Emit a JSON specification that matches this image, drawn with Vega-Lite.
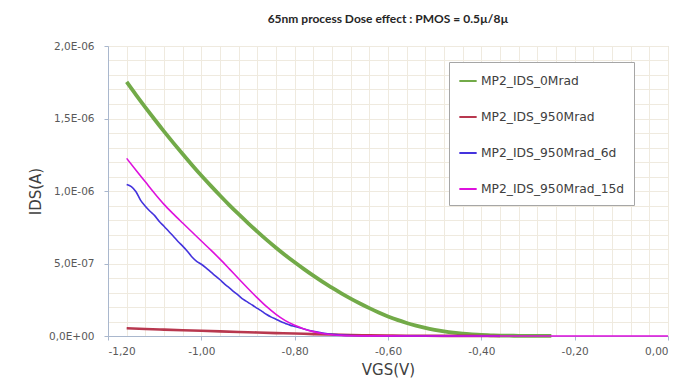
{
  "$schema": "https://vega.github.io/schema/vega-lite/v6.json",
  "width": 560,
  "height": 290,
  "autosize": "none",
  "padding": {"left": 108, "top": 46, "right": 15, "bottom": 51},
  "background": "white",
  "title": {
    "text": "65nm process Dose effect : PMOS = 0.5µ/8µ",
    "font": "Lato",
    "fontSize": 12,
    "fontWeight": "bold",
    "color": "#262626",
    "anchor": "middle",
    "frame": "group",
    "offset": 15,
    "dx": 0
  },
  "data": {
    "values": [
      {"s": "MP2_IDS_0Mrad", "v": -1.16, "i": 1.752e-6},
      {"s": "MP2_IDS_0Mrad", "v": -1.14, "i": 1.663e-6},
      {"s": "MP2_IDS_0Mrad", "v": -1.12, "i": 1.577e-6},
      {"s": "MP2_IDS_0Mrad", "v": -1.10, "i": 1.493e-6},
      {"s": "MP2_IDS_0Mrad", "v": -1.08, "i": 1.411e-6},
      {"s": "MP2_IDS_0Mrad", "v": -1.06, "i": 1.332e-6},
      {"s": "MP2_IDS_0Mrad", "v": -1.04, "i": 1.255e-6},
      {"s": "MP2_IDS_0Mrad", "v": -1.02, "i": 1.180e-6},
      {"s": "MP2_IDS_0Mrad", "v": -1.00, "i": 1.107e-6},
      {"s": "MP2_IDS_0Mrad", "v": -0.98, "i": 1.037e-6},
      {"s": "MP2_IDS_0Mrad", "v": -0.96, "i": 0.969e-6},
      {"s": "MP2_IDS_0Mrad", "v": -0.94, "i": 0.903e-6},
      {"s": "MP2_IDS_0Mrad", "v": -0.92, "i": 0.840e-6},
      {"s": "MP2_IDS_0Mrad", "v": -0.90, "i": 0.779e-6},
      {"s": "MP2_IDS_0Mrad", "v": -0.88, "i": 0.720e-6},
      {"s": "MP2_IDS_0Mrad", "v": -0.86, "i": 0.663e-6},
      {"s": "MP2_IDS_0Mrad", "v": -0.84, "i": 0.609e-6},
      {"s": "MP2_IDS_0Mrad", "v": -0.82, "i": 0.557e-6},
      {"s": "MP2_IDS_0Mrad", "v": -0.80, "i": 0.508e-6},
      {"s": "MP2_IDS_0Mrad", "v": -0.78, "i": 0.461e-6},
      {"s": "MP2_IDS_0Mrad", "v": -0.76, "i": 0.416e-6},
      {"s": "MP2_IDS_0Mrad", "v": -0.74, "i": 0.373e-6},
      {"s": "MP2_IDS_0Mrad", "v": -0.72, "i": 0.333e-6},
      {"s": "MP2_IDS_0Mrad", "v": -0.70, "i": 0.294e-6},
      {"s": "MP2_IDS_0Mrad", "v": -0.68, "i": 0.258e-6},
      {"s": "MP2_IDS_0Mrad", "v": -0.66, "i": 0.224e-6},
      {"s": "MP2_IDS_0Mrad", "v": -0.64, "i": 0.192e-6},
      {"s": "MP2_IDS_0Mrad", "v": -0.62, "i": 0.162e-6},
      {"s": "MP2_IDS_0Mrad", "v": -0.60, "i": 0.135e-6},
      {"s": "MP2_IDS_0Mrad", "v": -0.58, "i": 0.111e-6},
      {"s": "MP2_IDS_0Mrad", "v": -0.56, "i": 0.090e-6},
      {"s": "MP2_IDS_0Mrad", "v": -0.54, "i": 0.072e-6},
      {"s": "MP2_IDS_0Mrad", "v": -0.52, "i": 0.056e-6},
      {"s": "MP2_IDS_0Mrad", "v": -0.50, "i": 0.043e-6},
      {"s": "MP2_IDS_0Mrad", "v": -0.48, "i": 0.032e-6},
      {"s": "MP2_IDS_0Mrad", "v": -0.46, "i": 0.023e-6},
      {"s": "MP2_IDS_0Mrad", "v": -0.44, "i": 0.016e-6},
      {"s": "MP2_IDS_0Mrad", "v": -0.42, "i": 0.011e-6},
      {"s": "MP2_IDS_0Mrad", "v": -0.40, "i": 0.007e-6},
      {"s": "MP2_IDS_0Mrad", "v": -0.38, "i": 0.005e-6},
      {"s": "MP2_IDS_0Mrad", "v": -0.36, "i": 0.003e-6},
      {"s": "MP2_IDS_0Mrad", "v": -0.34, "i": 0.002e-6},
      {"s": "MP2_IDS_0Mrad", "v": -0.32, "i": 0.0015e-6},
      {"s": "MP2_IDS_0Mrad", "v": -0.30, "i": 0.001e-6},
      {"s": "MP2_IDS_0Mrad", "v": -0.28, "i": 0.0007e-6},
      {"s": "MP2_IDS_0Mrad", "v": -0.25, "i": 0.0005e-6},

      {"s": "MP2_IDS_950Mrad", "v": -1.16, "i": 0.053e-6},
      {"s": "MP2_IDS_950Mrad", "v": -1.12, "i": 0.048e-6},
      {"s": "MP2_IDS_950Mrad", "v": -1.08, "i": 0.044e-6},
      {"s": "MP2_IDS_950Mrad", "v": -1.04, "i": 0.040e-6},
      {"s": "MP2_IDS_950Mrad", "v": -1.00, "i": 0.036e-6},
      {"s": "MP2_IDS_950Mrad", "v": -0.96, "i": 0.032e-6},
      {"s": "MP2_IDS_950Mrad", "v": -0.92, "i": 0.028e-6},
      {"s": "MP2_IDS_950Mrad", "v": -0.88, "i": 0.024e-6},
      {"s": "MP2_IDS_950Mrad", "v": -0.84, "i": 0.020e-6},
      {"s": "MP2_IDS_950Mrad", "v": -0.80, "i": 0.017e-6},
      {"s": "MP2_IDS_950Mrad", "v": -0.76, "i": 0.013e-6},
      {"s": "MP2_IDS_950Mrad", "v": -0.72, "i": 0.010e-6},
      {"s": "MP2_IDS_950Mrad", "v": -0.68, "i": 0.007e-6},
      {"s": "MP2_IDS_950Mrad", "v": -0.64, "i": 0.005e-6},
      {"s": "MP2_IDS_950Mrad", "v": -0.60, "i": 0.003e-6},
      {"s": "MP2_IDS_950Mrad", "v": -0.56, "i": 0.002e-6},
      {"s": "MP2_IDS_950Mrad", "v": -0.52, "i": 0.0015e-6},
      {"s": "MP2_IDS_950Mrad", "v": -0.48, "i": 0.001e-6},
      {"s": "MP2_IDS_950Mrad", "v": -0.44, "i": 0.0007e-6},
      {"s": "MP2_IDS_950Mrad", "v": -0.40, "i": 0.0005e-6},
      {"s": "MP2_IDS_950Mrad", "v": -0.36, "i": 0.0004e-6},

      {"s": "MP2_IDS_950Mrad_6d", "v": -1.16, "i": 1.045e-6},
      {"s": "MP2_IDS_950Mrad_6d", "v": -1.15, "i": 1.030e-6},
      {"s": "MP2_IDS_950Mrad_6d", "v": -1.14, "i": 0.995e-6},
      {"s": "MP2_IDS_950Mrad_6d", "v": -1.13, "i": 0.935e-6},
      {"s": "MP2_IDS_950Mrad_6d", "v": -1.12, "i": 0.895e-6},
      {"s": "MP2_IDS_950Mrad_6d", "v": -1.11, "i": 0.860e-6},
      {"s": "MP2_IDS_950Mrad_6d", "v": -1.10, "i": 0.830e-6},
      {"s": "MP2_IDS_950Mrad_6d", "v": -1.09, "i": 0.790e-6},
      {"s": "MP2_IDS_950Mrad_6d", "v": -1.08, "i": 0.757e-6},
      {"s": "MP2_IDS_950Mrad_6d", "v": -1.07, "i": 0.722e-6},
      {"s": "MP2_IDS_950Mrad_6d", "v": -1.06, "i": 0.688e-6},
      {"s": "MP2_IDS_950Mrad_6d", "v": -1.05, "i": 0.652e-6},
      {"s": "MP2_IDS_950Mrad_6d", "v": -1.04, "i": 0.620e-6},
      {"s": "MP2_IDS_950Mrad_6d", "v": -1.03, "i": 0.585e-6},
      {"s": "MP2_IDS_950Mrad_6d", "v": -1.02, "i": 0.545e-6},
      {"s": "MP2_IDS_950Mrad_6d", "v": -1.01, "i": 0.515e-6},
      {"s": "MP2_IDS_950Mrad_6d", "v": -1.00, "i": 0.495e-6},
      {"s": "MP2_IDS_950Mrad_6d", "v": -0.99, "i": 0.470e-6},
      {"s": "MP2_IDS_950Mrad_6d", "v": -0.98, "i": 0.442e-6},
      {"s": "MP2_IDS_950Mrad_6d", "v": -0.97, "i": 0.415e-6},
      {"s": "MP2_IDS_950Mrad_6d", "v": -0.96, "i": 0.388e-6},
      {"s": "MP2_IDS_950Mrad_6d", "v": -0.95, "i": 0.358e-6},
      {"s": "MP2_IDS_950Mrad_6d", "v": -0.94, "i": 0.332e-6},
      {"s": "MP2_IDS_950Mrad_6d", "v": -0.93, "i": 0.305e-6},
      {"s": "MP2_IDS_950Mrad_6d", "v": -0.92, "i": 0.279e-6},
      {"s": "MP2_IDS_950Mrad_6d", "v": -0.91, "i": 0.252e-6},
      {"s": "MP2_IDS_950Mrad_6d", "v": -0.90, "i": 0.232e-6},
      {"s": "MP2_IDS_950Mrad_6d", "v": -0.89, "i": 0.212e-6},
      {"s": "MP2_IDS_950Mrad_6d", "v": -0.88, "i": 0.190e-6},
      {"s": "MP2_IDS_950Mrad_6d", "v": -0.87, "i": 0.170e-6},
      {"s": "MP2_IDS_950Mrad_6d", "v": -0.86, "i": 0.148e-6},
      {"s": "MP2_IDS_950Mrad_6d", "v": -0.85, "i": 0.130e-6},
      {"s": "MP2_IDS_950Mrad_6d", "v": -0.84, "i": 0.116e-6},
      {"s": "MP2_IDS_950Mrad_6d", "v": -0.83, "i": 0.100e-6},
      {"s": "MP2_IDS_950Mrad_6d", "v": -0.82, "i": 0.087e-6},
      {"s": "MP2_IDS_950Mrad_6d", "v": -0.81, "i": 0.075e-6},
      {"s": "MP2_IDS_950Mrad_6d", "v": -0.80, "i": 0.066e-6},
      {"s": "MP2_IDS_950Mrad_6d", "v": -0.78, "i": 0.048e-6},
      {"s": "MP2_IDS_950Mrad_6d", "v": -0.76, "i": 0.032e-6},
      {"s": "MP2_IDS_950Mrad_6d", "v": -0.74, "i": 0.020e-6},
      {"s": "MP2_IDS_950Mrad_6d", "v": -0.72, "i": 0.011e-6},
      {"s": "MP2_IDS_950Mrad_6d", "v": -0.70, "i": 0.006e-6},
      {"s": "MP2_IDS_950Mrad_6d", "v": -0.68, "i": 0.003e-6},
      {"s": "MP2_IDS_950Mrad_6d", "v": -0.64, "i": 0.0015e-6},
      {"s": "MP2_IDS_950Mrad_6d", "v": -0.60, "i": 0.001e-6},
      {"s": "MP2_IDS_950Mrad_6d", "v": -0.50, "i": 0.0005e-6},
      {"s": "MP2_IDS_950Mrad_6d", "v": -0.36, "i": 0.0003e-6},

      {"s": "MP2_IDS_950Mrad_15d", "v": -1.16, "i": 1.225e-6},
      {"s": "MP2_IDS_950Mrad_15d", "v": -1.14, "i": 1.143e-6},
      {"s": "MP2_IDS_950Mrad_15d", "v": -1.12, "i": 1.063e-6},
      {"s": "MP2_IDS_950Mrad_15d", "v": -1.10, "i": 0.983e-6},
      {"s": "MP2_IDS_950Mrad_15d", "v": -1.08, "i": 0.908e-6},
      {"s": "MP2_IDS_950Mrad_15d", "v": -1.06, "i": 0.842e-6},
      {"s": "MP2_IDS_950Mrad_15d", "v": -1.04, "i": 0.779e-6},
      {"s": "MP2_IDS_950Mrad_15d", "v": -1.02, "i": 0.717e-6},
      {"s": "MP2_IDS_950Mrad_15d", "v": -1.00, "i": 0.655e-6},
      {"s": "MP2_IDS_950Mrad_15d", "v": -0.98, "i": 0.594e-6},
      {"s": "MP2_IDS_950Mrad_15d", "v": -0.96, "i": 0.530e-6},
      {"s": "MP2_IDS_950Mrad_15d", "v": -0.94, "i": 0.463e-6},
      {"s": "MP2_IDS_950Mrad_15d", "v": -0.92, "i": 0.395e-6},
      {"s": "MP2_IDS_950Mrad_15d", "v": -0.90, "i": 0.328e-6},
      {"s": "MP2_IDS_950Mrad_15d", "v": -0.88, "i": 0.263e-6},
      {"s": "MP2_IDS_950Mrad_15d", "v": -0.86, "i": 0.202e-6},
      {"s": "MP2_IDS_950Mrad_15d", "v": -0.84, "i": 0.149e-6},
      {"s": "MP2_IDS_950Mrad_15d", "v": -0.82, "i": 0.106e-6},
      {"s": "MP2_IDS_950Mrad_15d", "v": -0.80, "i": 0.074e-6},
      {"s": "MP2_IDS_950Mrad_15d", "v": -0.78, "i": 0.049e-6},
      {"s": "MP2_IDS_950Mrad_15d", "v": -0.76, "i": 0.030e-6},
      {"s": "MP2_IDS_950Mrad_15d", "v": -0.74, "i": 0.017e-6},
      {"s": "MP2_IDS_950Mrad_15d", "v": -0.72, "i": 0.009e-6},
      {"s": "MP2_IDS_950Mrad_15d", "v": -0.70, "i": 0.004e-6},
      {"s": "MP2_IDS_950Mrad_15d", "v": -0.68, "i": 0.002e-6},
      {"s": "MP2_IDS_950Mrad_15d", "v": -0.64, "i": 0.001e-6},
      {"s": "MP2_IDS_950Mrad_15d", "v": -0.60, "i": 0.0006e-6},
      {"s": "MP2_IDS_950Mrad_15d", "v": -0.40, "i": 0.0003e-6},
      {"s": "MP2_IDS_950Mrad_15d", "v": -0.20, "i": 0.0002e-6},
      {"s": "MP2_IDS_950Mrad_15d", "v": 0.00, "i": 0.0001e-6}
    ]
  },
  "mark": {"type": "line", "interpolate": "monotone"},
  "encoding": {
    "x": {
      "field": "v",
      "type": "quantitative",
      "scale": {"domain": [-1.2, 0], "nice": false, "zero": false},
      "axis": {
        "title": "VGS(V)",
        "values": [-1.2, -1.16, -1.12, -1.08, -1.04, -1.0, -0.96, -0.92, -0.88, -0.84, -0.8, -0.76, -0.72, -0.68, -0.64, -0.6, -0.56, -0.52, -0.48, -0.44, -0.4, -0.36, -0.32, -0.28, -0.24, -0.2, -0.16, -0.12, -0.08, -0.04, 0],
        "labelExpr": "abs(datum.value*5 - round(datum.value*5)) < 0.001 ? replace(replace(format(datum.value, '.2f'), '.', ','), '−', '-') : ''",
        "tickOpacity": {"condition": {"test": "abs(datum.value*5 - round(datum.value*5)) < 0.001", "value": 1}, "value": 0},
        "labelPadding": 6,
        "titlePadding": 6
      }
    },
    "y": {
      "field": "i",
      "type": "quantitative",
      "scale": {"domain": [0, 2e-6], "nice": false},
      "axis": {
        "title": "IDS(A)",
        "values": [0, 1e-7, 2e-7, 3e-7, 4e-7, 5e-7, 6e-7, 7e-7, 8e-7, 9e-7, 1e-6, 1.1e-6, 1.2e-6, 1.3e-6, 1.4e-6, 1.5e-6, 1.6e-6, 1.7e-6, 1.8e-6, 1.9e-6, 2e-6],
        "labelExpr": "abs(datum.value*2e6 - round(datum.value*2e6)) < 0.001 ? replace(replace(replace(replace(format(datum.value, '.1e'), '.', ','), 'e-', 'E-0'), 'e+', 'E+0'), '−', '-') : ''",
        "tickOpacity": {"condition": {"test": "abs(datum.value*2e6 - round(datum.value*2e6)) < 0.001", "value": 1}, "value": 0},
        "labelPadding": 10,
        "titlePadding": 5
      }
    },
    "color": {
      "field": "s",
      "type": "nominal",
      "scale": {
        "domain": ["MP2_IDS_0Mrad", "MP2_IDS_950Mrad", "MP2_IDS_950Mrad_6d", "MP2_IDS_950Mrad_15d"],
        "range": ["#72aa48", "#b8384f", "#4433dd", "#dd11dd"]
      },
      "legend": {
        "title": null,
        "orient": "none",
        "legendX": 341,
        "legendY": 16,
        "symbolType": "stroke",
        "symbolSize": 300,
        "symbolStrokeWidth": 2,
        "padding": 9,
        "rowPadding": 19,
        "labelOffset": 3,
        "labelFont": "DejaVu Sans",
        "labelFontSize": 12.3,
        "labelColor": "#404040",
        "labelLimit": 300,
        "fillColor": "white",
        "strokeColor": "#a6a6a6"
      }
    },
    "strokeWidth": {
      "condition": [
        {"test": "datum.s === 'MP2_IDS_0Mrad'", "value": 3.8},
        {"test": "datum.s === 'MP2_IDS_950Mrad'", "value": 2.6}
      ],
      "value": 1.6
    }
  },
  "config": {
    "view": {"stroke": "#c5d0e0", "strokeWidth": 1},
    "axis": {
      "domainColor": "#a9b7cd",
      "gridColor": "#efeadf",
      "gridOpacity": 1,
      "tickColor": "#a9b7cd",
      "tickSize": 4,
      "labelFont": "DejaVu Sans",
      "labelFontSize": 10.5,
      "labelColor": "#595959",
      "titleFont": "DejaVu Sans",
      "titleFontSize": 15,
      "titleFontWeight": "normal",
      "titleColor": "#404040"
    }
  }
}
